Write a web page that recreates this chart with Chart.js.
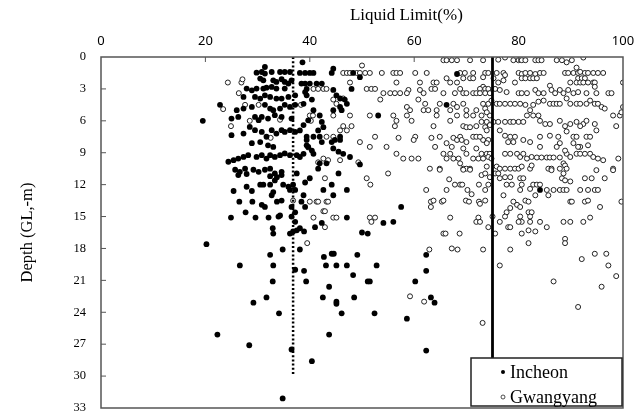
<!DOCTYPE html>
<html lang="en">
<head>
<meta charset="UTF-8">
<title>Liquid Limit - Depth</title>
<style>
  html, body { margin: 0; padding: 0; background: #fff; }
  #wrap { width: 642px; height: 412px; }
</style>
</head>
<body>
<div id="wrap"><canvas id="myChart" width="642" height="412"></canvas></div>
<script src="https://cdn.jsdelivr.net/npm/chart.js"></script>
<script>
// [liquid limit (%), depth (m)]
const incheon = [
  [19.5,6.0],[31.4,0.94],
  [29.8,1.47],[30.8,1.41],[31.4,1.56],[32.7,1.41],[34.3,1.41],[35.2,1.41],[36.2,1.41],
  [30.5,2.03],[31.1,2.19],[33.0,2.19],[33.6,2.34],[34.6,2.09],[35.2,2.34],[35.9,2.5],[36.5,2.19],
  [27.9,2.97],[28.9,3.13],[29.8,2.97],[31.1,2.97],[31.7,2.88],[32.7,2.81],[33.6,2.97],[35.2,2.97],
  [27.3,3.75],[29.5,3.75],[30.5,3.91],[31.4,3.6],[32.4,3.75],[33.6,3.91],[34.6,3.91],[35.9,3.75],[37.2,3.6],
  [22.8,4.5],[26.0,5.0],[27.3,4.85],[28.9,4.69],[31.4,4.5],[32.4,4.85],[33.0,5.0],[34.3,4.85],[35.2,4.5],[36.2,4.69],[37.2,4.5],
  [25.0,5.79],[26.3,5.63],[29.5,5.63],[30.2,5.94],[30.8,5.63],[32.0,5.79],[33.3,5.47],[34.6,5.63],[36.5,5.79],
  [25.0,7.35],[27.3,7.2],[28.5,6.57],[29.5,6.88],[30.8,7.04],[31.7,7.5],[32.7,6.88],[33.6,7.2],[34.6,6.88],[35.2,7.04],[36.2,6.88],[37.2,7.04],
  [28.9,8.1],[30.5,8.0],[32.0,8.3],[33.0,8.45],
  [24.4,9.85],[25.4,9.7],[26.3,9.55],[27.3,9.39],[28.2,9.23],[29.8,9.39],[30.8,9.23],[31.7,9.55],[32.4,9.23],[33.3,9.39],[34.3,9.23],
  [35.2,9.07],[36.2,9.23],[37.5,9.23],
  [25.7,10.6],[26.6,10.8],[27.6,10.5],[29.2,10.6],[30.2,10.8],[31.4,10.6],[32.4,10.5],[33.3,10.95],[34.6,10.8],[37.5,10.95],
  [25.4,12.6],[26.5,13.6],[27.9,12.2],[28.9,12.6],[29.0,13.6],[27.7,14.6],[24.9,15.1],[29.6,15.1],[30.5,12.0],[31.1,12.0],[30.8,13.9],
  [31.4,14.1],[32.4,12.0],[32.7,13.0],[33.0,12.7],[33.7,13.6],[33.7,11.3],[33.3,11.6],[34.6,13.5],[34.9,12.0],[35.9,12.2],[36.2,12.5],
  [36.8,12.0],[37.2,12.5],[36.5,14.1],[37.2,14.6],[32.1,15.1],[34.0,15.0],[34.3,14.9],[36.5,15.0],[37.2,15.5],[37.5,16.3],[36.2,16.6],
  [36.8,16.4],[32.9,16.1],[33.0,16.6],[38.1,16.1],[20.2,17.6],[32.4,18.6],[34.8,18.1],[26.6,19.6],[33.0,19.6],[37.2,20.0],[32.9,21.1],
  [26.3,11.1],[27.9,11.0],[32.4,11.2],[34.6,11.1],
  [29.2,23.1],[31.7,22.6],[34.1,24.1],[22.3,26.1],[28.4,27.1],[36.5,27.5],[40.4,28.6],[34.8,32.1],
  [38.6,0.5],[38.1,1.5],[39.1,1.5],[40.0,1.5],[40.7,1.5],[44.2,1.5],[44.5,1.1],[48.3,1.5],[49.6,1.9],[48.0,3.0],[38.4,2.5],[39.1,2.5],
  [40.0,2.5],[41.3,2.5],[42.3,2.5],[39.4,3.0],[39.1,3.3],[39.4,3.6],[40.4,4.0],[38.8,4.4],[44.5,3.1],[45.1,3.6],[45.8,3.9],[46.7,4.0],
  [47.1,4.4],[44.5,5.0],[46.1,5.0],[45.8,4.7],[40.7,5.0],[41.9,5.5],[42.3,6.1],[42.6,6.6],[41.6,6.9],[39.7,5.95],[38.8,6.4],[38.1,6.9],
  [40.7,7.5],[39.4,7.5],[39.4,7.8],[41.9,7.5],[42.3,8.0],[44.2,8.0],[44.8,7.8],[45.8,7.8],[45.8,7.5],[39.4,8.3],[39.7,8.45],[40.4,8.8],
  [40.7,9.1],[38.8,9.1],[38.1,9.4],[44.5,8.6],[45.5,8.9],[47.7,9.4],[46.4,9.1],[49.6,10.1],[41.9,10.0],[43.2,10.0],[41.6,10.5],
  [53.1,5.5],[66.2,4.5],[68.2,1.6],
  [39.1,11.8],[40.0,11.4],[44.2,12.0],[47.1,12.5],[42.6,12.5],[38.8,13.0],[44.5,13.0],[38.4,13.6],[39.1,14.1],[47.1,15.1],[42.3,15.6],
  [38.9,16.4],[41.0,16.0],[38.1,18.1],[50.0,16.5],[51.1,16.6],[54.1,15.6],[56.0,15.5],[57.5,14.1],[42.7,18.8],[44.2,18.5],[44.6,18.5],
  [49.1,18.6],[43.1,19.6],[45.1,19.6],[47.1,19.6],[52.8,19.6],[38.9,20.1],[48.3,20.5],[39.3,21.1],[51.1,21.1],[51.5,21.1],[43.7,21.6],
  [60.2,21.1],[62.3,20.1],[62.3,18.6],[42.5,22.6],[45.1,23.0],[48.5,22.6],[63.2,22.6],[63.9,23.1],[45.5,10.95],
  [46.1,24.1],[52.4,24.1],[58.6,24.6],[43.7,26.1],[62.3,27.6],[45.1,23.2],
  [84.1,12.5]
];

const gwangyang = [
  [23.4,4.9],[24.3,2.4],[26.9,2.4],[27.1,2.1],[26.4,3.4],[27.6,4.5],[24.9,6.5],[28.5,6.0],[34.3,5.9],[32.5,7.6],[38.3,4.5],[30.2,4.5],
  [40.0,5.5],[40.6,5.5],[40.2,6.0],[39.7,8.5],[41.6,9.9],[36.8,13.5],
  [65.6,0.3],[66.2,0.3],[67.2,0.3],[68.2,0.3],[70.7,0.3],[50.0,0.8],
  [46.4,1.5],[47.1,1.5],[47.7,1.5],[49.0,1.5],[49.6,1.5],[50.6,1.5],[51.5,1.5],[53.8,1.5],[56.0,1.5],[56.6,1.5],[57.3,1.5],[60.2,1.5],
  [62.4,1.5],[68.8,1.5],[69.7,1.5],[71.3,1.5],
  [47.7,2.4],[56.6,2.4],[61.1,2.4],[63.7,2.4],[64.3,2.4],[66.2,2.0],[66.9,2.4],[68.2,2.4],[69.4,2.0],[70.7,2.0],[71.3,2.0],
  [40.7,3.0],[41.6,3.0],[42.6,3.0],[43.2,3.0],[50.9,3.0],[51.8,3.0],[52.5,3.0],[54.1,3.4],[55.4,3.4],[56.3,3.4],[57.3,3.4],[58.9,3.1],
  [58.6,3.4],[61.1,3.1],[61.8,3.4],[63.3,3.0],[64.0,3.0],[65.6,3.4],[67.8,3.4],[68.8,3.0],[69.4,3.4],[70.0,3.4],[71.3,3.4],[71.9,3.4],
  [44.5,4.0],[45.1,4.4],[46.4,3.9],[53.5,4.0],[60.8,4.0],[62.1,4.4],[58.6,4.7],[59.2,5.0],[61.8,5.0],[62.7,5.0],[64.3,5.0],[64.9,4.4],
  [66.9,5.0],[67.5,4.4],[68.2,4.7],[69.4,4.4],[70.0,5.0],[71.9,5.0],
  [44.5,5.5],[47.7,5.5],[51.5,5.5],[56.0,5.5],[58.6,5.5],[59.5,6.0],[64.3,5.5],[66.9,6.0],[68.2,5.5],[70.0,5.5],[71.3,5.5],[56.6,6.0],
  [56.3,6.5],[63.7,6.5],[69.4,6.5],[70.0,6.6],[70.7,6.6],[71.9,6.5],[46.4,6.5],[47.1,6.9],[48.0,6.5],
  [45.8,6.9],[43.2,7.5],[44.5,7.5],[52.5,7.5],[57.0,7.6],[60.2,7.5],[63.3,7.6],[64.9,7.5],[67.5,7.6],[68.2,7.8],[68.8,7.5],[69.1,7.8],
  [70.0,8.0],[71.3,7.5],[71.9,7.5],[49.6,8.0],[51.5,8.45],[54.7,8.45],[59.9,7.8],[64.0,8.45],[66.2,8.1],[67.2,8.45],[69.4,8.6],[71.9,8.6],
  [56.6,9.1],[57.9,9.55],[59.5,9.55],[60.8,9.55],[65.6,9.1],[66.2,9.55],[66.9,9.1],[67.5,9.55],[68.5,9.55],[70.0,9.1],[71.3,9.55],
  [72.3,9.55],[42.6,9.55],[43.5,9.7],[45.8,9.7],[49.3,9.9],
  [63.0,10.5],[64.9,10.5],[68.8,10.0],[69.4,10.5],[70.0,10.5],[70.7,10.5],
  [50.9,11.4],[51.6,12.0],[55.0,10.95],[62.3,12.5],[63.2,13.6],[63.7,13.5],[63.2,14.1],[65.3,13.6],[65.6,13.5],[66.2,12.5],[66.7,11.5],
  [67.8,12.0],[68.8,12.0],[69.2,12.0],[70.2,12.5],[71.0,12.9],[69.9,13.5],[70.5,13.6],[72.4,13.6],[72.4,12.0],[71.9,15.5],[72.3,15.1],
  [66.9,15.1],[65.6,16.6],[66.0,16.6],[68.7,16.6],[67.2,18.0],[68.3,18.1],[62.9,18.1],[59.2,22.5],[61.9,23.0],[39.5,17.5],[42.6,14.5],
  [42.9,14.5],[42.9,16.0],[40.7,15.1],[44.5,15.1],[45.1,15.1],[51.5,15.1],[52.5,15.1],[51.8,15.5],[40.0,13.6],[41.3,13.6],[41.6,13.6],
  [43.2,13.6],[43.5,13.6],[42.9,11.4],[64.9,10.6],[69.4,10.6],[70.7,10.6],
  [73.1,25.0],
  [73.2,0.3],[76.1,0.25],[77.4,0.05],[79.0,0.3],[80.0,0.3],[80.6,0.3],[81.3,0.3],[83.2,0.3],[83.8,0.3],[84.4,0.3],[87.3,0.3],[88.3,0.3],
  [89.2,0.5],[90.2,0.3],[92.4,0.05],
  [73.6,1.5],[74.2,1.5],[75.8,1.5],[77.1,1.5],[80.0,1.5],[80.6,1.6],[81.3,1.5],[82.2,1.5],[83.2,1.6],[84.1,1.5],[84.8,1.5],[88.9,1.5],
  [89.5,1.5],[90.5,1.5],[91.4,1.5],[91.8,1.4],[92.7,1.5],[93.3,1.5],[94.3,1.5],[95.2,1.5],[96.2,1.5],[100,2.4],[91.1,1.0],[77.4,1.7],
  [73.2,1.9],
  [75.2,2.0],[76.1,2.4],[77.1,2.2],[79.3,2.4],[80.6,2.0],[81.3,2.0],[82.2,2.0],[82.8,2.0],[83.5,2.0],[89.9,2.4],[91.4,2.0],[92.1,2.0],
  [92.7,2.0],[91.1,2.4],[91.8,2.4],[92.4,2.4],[93.3,2.4],[94.3,2.4],[94.6,2.4],[73.2,2.8],
  [72.6,3.0],[73.6,3.0],[74.2,3.0],[75.5,3.0],[76.4,3.1],[77.7,3.3],[80.0,3.4],[80.6,3.4],[81.6,3.4],[83.2,3.1],[83.8,3.4],[84.8,3.4],
  [86.0,2.7],[86.3,3.1],[87.0,3.4],[87.9,3.1],[88.6,3.4],[89.5,3.1],[90.5,3.4],[91.4,3.3],[93.0,3.4],[94.9,3.4],[97.2,3.4],[97.8,3.4],
  [94.6,2.8],[72.6,3.4],[73.6,3.4],[74.5,3.4],
  [73.2,4.4],[74.2,4.4],[74.8,4.1],[75.8,4.4],[76.4,4.4],[77.4,4.4],[78.4,4.4],[79.3,4.4],[80.3,4.4],[81.3,4.5],[82.8,4.5],[83.8,4.2],
  [84.8,4.1],[86.0,4.4],[86.7,4.4],[87.3,4.4],[87.9,4.4],[89.2,3.9],[89.9,4.4],[91.1,4.4],[91.8,4.4],[93.0,4.4],[93.7,4.1],[94.6,4.4],
  [95.2,4.4],[95.9,4.7],[96.5,4.85],[98.1,5.5],[99.4,5.5],[100,4.7],[99.7,5.2],[82.2,5.0],[81.6,5.5],[82.8,5.5],[83.8,5.5],[73.6,4.85],
  [72.9,5.5],[74.5,5.5],[73.9,5.2],
  [72.9,6.1],[73.9,6.1],[75.2,6.1],[76.1,6.1],[77.4,6.1],[78.4,6.1],[79.0,6.1],[80.0,6.1],[80.9,6.1],[84.1,6.0],[85.1,6.3],[86.0,6.3],
  [87.9,6.0],[88.9,6.5],[89.9,6.3],[91.1,6.1],[92.4,6.3],[93.0,6.0],[94.6,6.3],[91.8,6.5],[98.7,6.5],[73.6,6.6],[74.5,6.4],[73.9,6.9],
  [76.4,6.9],
  [77.4,7.4],[78.4,7.5],[79.3,7.5],[78.0,8.0],[79.0,8.0],[80.9,7.8],[82.2,8.0],[84.1,7.5],[86.0,7.4],[87.6,7.5],[90.5,7.5],[91.1,7.5],
  [93.0,7.5],[93.7,7.5],[94.9,6.9],[89.2,7.0],[87.9,8.1],[90.5,8.1],[87.3,8.45],[84.1,8.45],[93.3,8.3],[91.8,8.45],[73.2,7.8],[74.2,7.8],
  [73.9,8.1],[72.6,7.5],
  [72.9,9.1],[73.9,9.1],[74.5,9.1],[73.2,9.55],[74.2,9.4],[74.8,9.55],[77.4,9.1],[78.4,9.1],[79.7,9.1],[80.3,9.4],[81.6,9.55],[82.5,9.4],
  [83.5,9.45],[84.4,9.45],[85.4,9.45],[86.0,9.45],[86.7,9.45],[87.9,9.45],[89.2,9.1],[89.9,9.4],[91.1,9.1],[91.8,9.1],[92.7,9.1],
  [93.7,9.1],[94.3,9.4],[95.2,9.55],[96.2,9.7],[99.1,9.55],[80.9,9.1],[88.9,8.8],[91.4,8.45],[88.6,10.0],
  [73.9,10.3],[75.8,10.3],[76.4,10.5],[77.4,10.5],[78.4,10.5],[79.3,10.5],[80.0,10.5],[80.6,10.3],[82.2,10.5],[82.5,10.2],[85.7,10.5],
  [86.3,10.5],[87.9,10.5],[88.9,10.2],[89.2,10.5],[98.1,10.5],
  [72.9,11.1],[73.6,10.95],[74.5,11.3],[75.5,10.95],[76.1,10.95],[77.4,11.3],[78.4,11.3],[76.4,11.4],[74.2,12.0],[77.7,12.0],[78.7,12.0],
  [80.3,11.4],[80.9,11.4],[80.6,12.0],[73.6,12.5],[77.1,13.0],[80.3,12.5],[82.2,12.4],[82.8,12.0],[83.5,12.0],[84.1,12.0],[83.2,13.0],
  [85.4,12.5],[85.7,13.0],[86.7,12.5],[87.9,12.5],[88.6,12.5],[89.2,12.5],[88.3,11.4],[88.9,11.6],[89.9,11.7],[91.8,12.5],[92.7,11.4],
  [94.0,11.4],[93.3,12.5],[94.6,12.5],[95.2,12.5],[96.5,11.4],[94.9,10.64],[98.1,10.64],[86.3,10.64],[88.6,10.95],
  [89.9,13.6],[90.2,13.6],[92.7,13.6],[93.3,13.5],[95.6,14.1],[99.7,13.6],[73.6,13.5],[72.6,13.8],[79.0,13.6],[79.7,13.9],[78.4,14.2],
  [77.7,14.6],[80.3,14.1],[81.3,13.5],[81.9,13.6],[81.9,14.6],[82.5,14.6],[77.4,15.0],[80.3,15.0],[80.6,15.5],[80.0,15.5],[82.2,15.5],
  [84.1,15.5],[82.2,15.0],[76.4,15.5],[72.6,15.5],[88.6,15.5],[89.9,15.5],[92.4,15.5],[93.7,15.1],[78.0,16.0],[78.4,16.0],[80.6,16.6],
  [81.9,16.3],[83.2,16.4],[85.4,16.0],[75.5,16.6],[74.2,16.0],[88.9,17.1],[88.9,17.5],[81.9,17.5],[73.2,18.1],[78.4,18.1],[92.1,19.0],
  [94.6,18.5],[96.8,18.5],[97.2,19.6],[98.7,20.6],[76.4,19.6],[86.7,21.1],[95.9,21.6],[91.4,23.5],[75.0,15.0]
];

// average liquid limit of each site, drawn as vertical reference lines
const meanIncheon = 36.8;
const meanGwangyang = 75.0;
const meanDepth = [0, 30];

const llStep = 20;
const depthStep = 3;
const depthMax = 33;

const toXY = pts => pts.map(p => ({ x: p[0], y: p[1] }));
const vLine = ll => meanDepth.map(d => ({ x: ll, y: d }));

const serif = '"Liberation Serif", "Times New Roman", serif';
const frameColor = '#555';

// box, inward tick marks, top title and legend drawn on the canvas
const decor = {
    id: 'decor',
    afterDatasetsDraw(chart) {
        const { ctx, chartArea: a, scales } = chart;
        ctx.save();
        ctx.strokeStyle = frameColor;
        ctx.lineWidth = 1.5;
        ctx.strokeRect(a.left, a.top, a.right - a.left, a.bottom - a.top);

        ctx.lineWidth = 1;
        ctx.beginPath();
        scales.x.ticks.forEach(t => {
            const px = scales.x.getPixelForValue(t.value);
            if (px <= a.left + 1 || px >= a.right - 1) return;
            ctx.moveTo(px, a.top);
            ctx.lineTo(px, a.top + 5);
        });
        scales.y.ticks.forEach(t => {
            const py = scales.y.getPixelForValue(t.value);
            if (py <= a.top + 1 || py >= a.bottom - 1) return;
            ctx.moveTo(a.left, py);
            ctx.lineTo(a.left + 5, py);
        });
        ctx.stroke();
        ctx.restore();
    },
    afterDraw(chart) {
        const { ctx, chartArea: a } = chart;
        ctx.save();

        // axis title over the top scale, set a little right of centre
        ctx.fillStyle = '#000';
        ctx.font = '17px ' + serif;
        ctx.textAlign = 'center';
        ctx.textBaseline = 'middle';
        ctx.fillText('Liquid Limit(%)', a.left + (a.right - a.left) * 0.585, 16);

        // legend box in the lower right corner
        const w = 151, h = 48;
        const lx = a.right - w - 1, ly = a.bottom - h - 2;
        ctx.fillStyle = '#fff';
        ctx.fillRect(lx, ly, w, h);
        ctx.strokeStyle = '#222';
        ctx.lineWidth = 1.5;
        ctx.strokeRect(lx, ly, w, h);

        const sets = chart.data.datasets.filter(ds => ds.type === 'scatter');
        sets.forEach((ds, i) => {
            const cy = ly + 14 + i * 25;
            ctx.beginPath();
            ctx.arc(lx + 32, cy, 2, 0, Math.PI * 2);
            ctx.fillStyle = ds.pointBackgroundColor;
            ctx.fill();
            if (ds.pointBorderWidth) {
                ctx.strokeStyle = ds.pointBorderColor;
                ctx.lineWidth = 0.8;
                ctx.stroke();
            }
            ctx.fillStyle = '#000';
            ctx.font = '18px ' + serif;
            ctx.textAlign = 'left';
            ctx.textBaseline = 'middle';
            ctx.fillText(ds.label, lx + 39, cy + 1);
        });
        ctx.restore();
    }
};

const ctx = document.getElementById('myChart').getContext('2d');
const myChart = new Chart(ctx, {
    data: {
        datasets: [
            {
                type: 'line', label: 'Incheon mean', data: vLine(meanIncheon),
                borderColor: '#000', borderWidth: 2.5, borderDash: [2, 2.2],
                pointRadius: 0, fill: false
            },
            {
                type: 'line', label: 'Gwangyang mean', data: vLine(meanGwangyang),
                borderColor: '#000', borderWidth: 2.8,
                pointRadius: 0, fill: false
            },
            {
                type: 'scatter', label: 'Incheon', data: toXY(incheon),
                pointRadius: 2.9, pointBackgroundColor: '#000',
                pointBorderColor: '#000', pointBorderWidth: 0
            },
            {
                type: 'scatter', label: 'Gwangyang', data: toXY(gwangyang),
                pointRadius: 2.5, pointBackgroundColor: '#fff',
                pointBorderColor: '#222', pointBorderWidth: 1
            }
        ]
    },
    options: {
        responsive: false,
        animation: false,
        devicePixelRatio: 1,
        layout: { autoPadding: false, padding: { left: 0, right: 19, top: 0, bottom: 4 } },
        plugins: {
            legend: { display: false },
            tooltip: { enabled: false }
        },
        scales: {
            x: {
                type: 'linear',
                position: 'top',
                min: 0,
                max: 100,
                afterFit: s => { s.height = 57; s.paddingLeft = 0; s.paddingRight = 0; },
                grid: { display: false, drawTicks: false },
                border: { display: false },
                ticks: {
                    stepSize: llStep,
                    padding: 8,
                    maxRotation: 0,
                    color: '#000',
                    font: { family: '"Noto Sans", "Liberation Sans", sans-serif', size: 13 }
                }
            },
            y: {
                type: 'linear',
                reverse: true,
                min: 0,
                max: depthMax,
                // keep the label padding from shrinking the plot box
                afterFit: s => { s.width = 101; s.paddingTop = 0; s.paddingBottom = 0; },
                grid: { display: false, drawTicks: false },
                border: { display: false },
                ticks: {
                    stepSize: depthStep,
                    padding: 15,
                    color: '#000',
                    font: { family: serif, size: 12.5 }
                },
                title: {
                    display: true,
                    text: 'Depth (GL,-m)',
                    color: '#000',
                    font: { family: serif, size: 16.5 },
                    padding: { top: 18, bottom: 0 }
                }
            }
        }
    },
    plugins: [decor]
});
</script>
</body>
</html>
